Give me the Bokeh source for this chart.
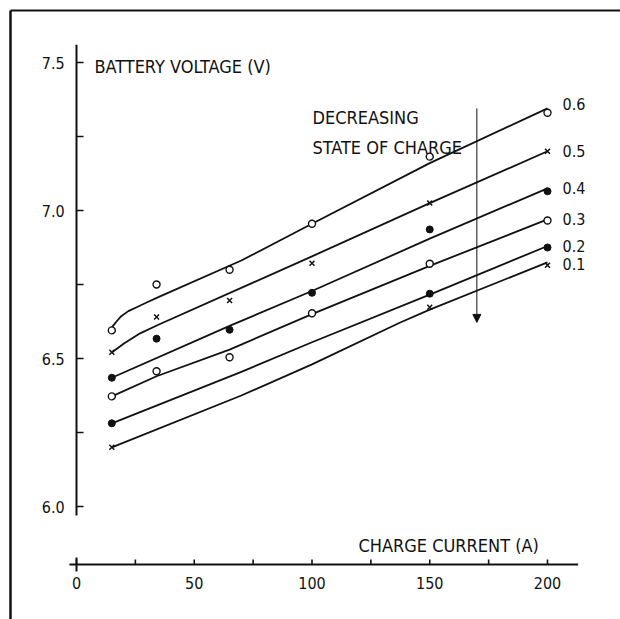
from bokeh.plotting import figure
from bokeh.models import Range1d, Arrow, NormalHead
from bokeh.core.properties import value
from bokeh.embed import file_html
from bokeh.resources import INLINE

# ---- measured points: charge current (A) vs battery voltage (V) ----
current = [15, 34, 65, 100, 150, 200]
current_sparse = [15, 150, 200]

v_soc06 = [6.595, 6.75, 6.80, 6.955, 7.182, 7.33]
v_soc05 = [6.521, 6.64, 6.696, 6.822, 7.025, 7.20]
v_soc04 = [6.435, 6.567, 6.597, 6.722, 6.936, 7.065]
v_soc03 = [6.372, 6.457, 6.504, 6.653, 6.82, 6.966]
v_soc02 = [6.281, 6.719, 6.875]
v_soc01 = [6.20, 6.673, 6.815]

# ---- hand-fitted curves through each state of charge ----
fit06_i = [15, 17, 19, 22, 26, 30, 35, 70, 100, 150, 200]
fit06_v = [6.605, 6.625, 6.643, 6.660, 6.675, 6.690, 6.708, 6.831, 6.955, 7.16, 7.345]
fit05_i = [15, 20, 27, 35, 74, 100, 150, 200]
fit05_v = [6.52, 6.55, 6.585, 6.615, 6.753, 6.845, 7.025, 7.20]
fit04_i = [15, 65, 100, 150, 200]
fit04_v = [6.435, 6.61, 6.728, 6.905, 7.075]
fit03_i = [15, 34, 65, 100, 150, 200]
fit03_v = [6.372, 6.44, 6.53, 6.65, 6.813, 6.97]
fit02_i = [15, 70, 100, 150, 200]
fit02_v = [6.281, 6.455, 6.555, 6.716, 6.88]
fit01_i = [15, 70, 100, 137, 150, 200]
fit01_v = [6.20, 6.375, 6.48, 6.62, 6.665, 6.825]

soc_labels = ["0.6", "0.5", "0.4", "0.3", "0.2", "0.1"]
soc_label_v = [7.36, 7.20, 7.075, 6.97, 6.88, 6.82]

x_ticks = [0, 50, 100, 150, 200]
x_minor_ticks = [25, 75, 125, 175]
x_tick_labels = ["0", "50", "100", "150", "200"]
y_ticks = [6.0, 6.5, 7.0, 7.5]
y_minor_ticks = [6.25, 6.75, 7.25]
y_tick_labels = ["6.0", "6.5", "7.0", "7.5"]

# ---- canvas geometry (data units per screen pixel) ----
W, H = 620, 619
SX = 200 / 471.0
SY = 1.5 / 444.0
X_LEFT = -76 * SX
X_RIGHT = X_LEFT + W * SX
Y_TOP = 7.5 + 62 * SY
Y_BOTTOM = Y_TOP - H * SY

INK = "#111111"
FONT = value("DejaVu Sans Condensed, Roboto")

p = figure(width=W, height=H, x_range=Range1d(X_LEFT, X_RIGHT),
           y_range=Range1d(Y_BOTTOM, Y_TOP), output_backend="svg",
           toolbar_location=None, min_border=0, x_axis_type=None,
           y_axis_type=None, outline_line_color=None,
           background_fill_color="white", border_fill_color="white")
p.title.visible = False

# page edges (left and top rule of the printed frame)
page_x = X_LEFT + 10 * SX
page_y = Y_TOP - 10 * SY
p.segment(x0=[page_x], y0=[Y_BOTTOM], x1=[page_x], y1=[page_y],
          line_color=INK, line_width=2.5)
p.segment(x0=[page_x], y0=[page_y], x1=[X_RIGHT], y1=[page_y],
          line_color=INK, line_width=2)

# vertical axis with inward ticks
y_axis_lo, y_axis_hi = 5.97, 7.56
p.segment(x0=[0], y0=[y_axis_lo], x1=[0], y1=[y_axis_hi],
          line_color=INK, line_width=2)
y_all = y_ticks + y_minor_ticks
p.segment(x0=[0] * len(y_all), y0=y_all, x1=[7 * SX] * len(y_all), y1=y_all,
          line_color=INK, line_width=1.6)
p.text(x=[-5.0] * len(y_ticks), y=y_ticks, text=y_tick_labels,
       text_font=FONT, text_font_size="16px", text_color=INK,
       text_align="right", text_baseline="middle")

# horizontal axis, drawn below the plotted voltages
x_axis_v = 7.5 - (564 - 62) * SY
p.segment(x0=[-3], y0=[x_axis_v], x1=[213], y1=[x_axis_v],
          line_color=INK, line_width=2)
x_all = x_ticks + x_minor_ticks
p.segment(x0=x_all, y0=[x_axis_v] * len(x_all), x1=x_all,
          y1=[x_axis_v + 5 * SY] * len(x_all), line_color=INK, line_width=1.6)
p.segment(x0=[0], y0=[x_axis_v - 7 * SY], x1=[0], y1=[x_axis_v + 7 * SY],
          line_color=INK, line_width=2)
p.text(x=x_ticks, y=[x_axis_v - 18 * SY] * len(x_ticks), text=x_tick_labels,
       text_font=FONT, text_font_size="16px", text_color=INK,
       text_align="center", text_baseline="middle")

# axis titles
p.text(x=[7.6], y=[7.486], text=["BATTERY  VOLTAGE (V)"], text_font=FONT,
       text_font_size="18px", text_color=INK, text_align="left",
       text_baseline="middle")
p.text(x=[119.7], y=[5.868], text=["CHARGE  CURRENT (A)"], text_font=FONT,
       text_font_size="18px", text_color=INK, text_align="left",
       text_baseline="middle")

# fitted curves
for fi, fv in [(fit06_i, fit06_v), (fit05_i, fit05_v), (fit04_i, fit04_v),
               (fit03_i, fit03_v), (fit02_i, fit02_v), (fit01_i, fit01_v)]:
    p.line(fi, fv, line_color=INK, line_width=1.8, line_join="round")

# measured points
open_style = dict(size=7, fill_color="white", line_color=INK, line_width=1.4)
dot_style = dict(size=7, fill_color=INK, line_color=INK, line_width=1)
cross_style = dict(size=7, line_color=INK, line_width=1.5)
p.scatter(current, v_soc06, marker="circle", **open_style)
p.scatter(current, v_soc05, marker="x", **cross_style)
p.scatter(current, v_soc04, marker="circle", **dot_style)
p.scatter(current, v_soc03, marker="circle", **open_style)
p.scatter(current_sparse, v_soc02, marker="circle", **dot_style)
p.scatter(current_sparse, v_soc01, marker="x", **cross_style)

# state-of-charge labels at the curve ends
p.text(x=[206.4] * len(soc_labels), y=soc_label_v, text=soc_labels,
       text_font=FONT, text_font_size="16px", text_color=INK,
       text_align="left", text_baseline="middle")

# trend arrow
p.text(x=[100.2, 100.2], y=[7.314, 7.213],
       text=["DECREASING", "STATE OF CHARGE"], text_font=FONT,
       text_font_size="18px", text_color=INK, text_align="left",
       text_baseline="middle")
p.add_layout(Arrow(end=NormalHead(size=8, fill_color=INK, line_color=INK,
                                  line_width=1),
                   x_start=170, y_start=7.345, x_end=170, y_end=6.622,
                   line_color=INK, line_width=1))

open("out.html", "w").write(file_html(p, INLINE))
